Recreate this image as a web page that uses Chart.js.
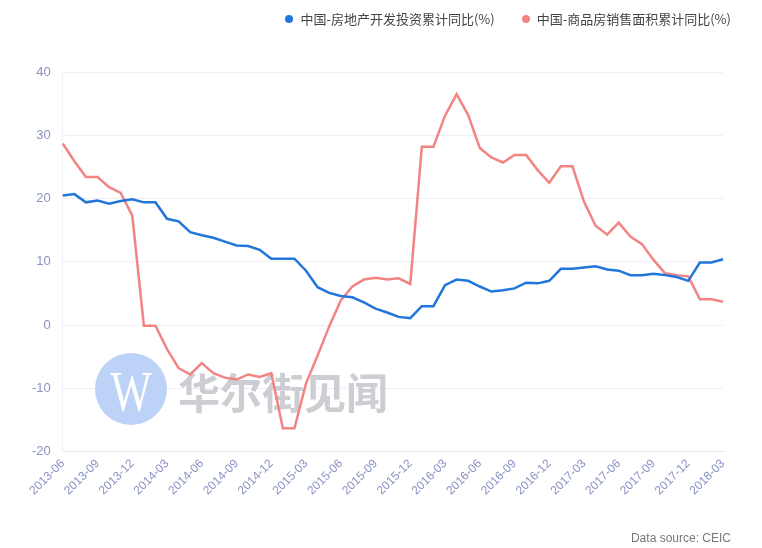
<!DOCTYPE html>
<html>
<head>
<meta charset="utf-8">
<script src="https://cdn.jsdelivr.net/npm/chart.js@4.4.1/dist/chart.umd.min.js"></script>
<style>
  body { margin: 0; background: #fff; }
  #wrap { position: relative; width: 762px; height: 548px; }
  #legend {
    position: absolute; top: 10px; right: 31px;
    font: 13px "Noto Sans CJK SC", sans-serif; color: #444;
    display: flex; line-height: 18px;
  }
  #legend .item { display: flex; align-items: center; }
  #legend .item + .item { margin-left: 27px; }
  #legend .dot { width: 8px; height: 8px; border-radius: 50%; margin-right: 7px; }
  #source {
    position: absolute; right: 31px; bottom: 3px;
    font: 12px "Liberation Sans", Arial, sans-serif; color: #777;
  }
</style>
</head>
<body>
<div id="wrap">
  <canvas id="chart" width="762" height="548"></canvas>
  <div id="legend"></div>
  <div id="source">Data source: CEIC</div>
</div>
<script>
const months = [
  "2013-06", "2013-07", "2013-08", "2013-09", "2013-10", "2013-11", "2013-12",
  "2014-01", "2014-02", "2014-03", "2014-04", "2014-05", "2014-06", "2014-07",
  "2014-08", "2014-09", "2014-10", "2014-11", "2014-12",
  "2015-01", "2015-02", "2015-03", "2015-04", "2015-05", "2015-06", "2015-07",
  "2015-08", "2015-09", "2015-10", "2015-11", "2015-12",
  "2016-01", "2016-02", "2016-03", "2016-04", "2016-05", "2016-06", "2016-07",
  "2016-08", "2016-09", "2016-10", "2016-11", "2016-12",
  "2017-01", "2017-02", "2017-03", "2017-04", "2017-05", "2017-06", "2017-07",
  "2017-08", "2017-09", "2017-10", "2017-11", "2017-12",
  "2018-01", "2018-02", "2018-03",
];

// 房地产开发投资累计同比
const investment = [
  20.5, 20.7, 19.4, 19.7, 19.2, 19.6, 19.9,
  19.4, 19.4, 16.8, 16.4, 14.7, 14.2, 13.8,
  13.2, 12.6, 12.5, 11.9, 10.5,
  10.5, 10.5, 8.6, 6.0, 5.1, 4.6, 4.4,
  3.6, 2.6, 2.0, 1.3, 1.1,
  3.0, 3.0, 6.3, 7.2, 7.0, 6.1, 5.3,
  5.5, 5.8, 6.7, 6.6, 7.0,
  8.9, 8.9, 9.1, 9.3, 8.8, 8.6, 7.9,
  7.9, 8.1, 7.9, 7.6, 7.0,
  9.9, 9.9, 10.4,
];

// 商品房销售面积累计同比
const salesArea = [
  28.7, 25.9, 23.4, 23.4, 21.8, 20.9, 17.3,
  -0.1, -0.1, -3.8, -6.8, -7.8, -6.0, -7.6,
  -8.3, -8.6, -7.8, -8.2, -7.6,
  -16.3, -16.3, -9.2, -4.8, -0.2, 3.9, 6.1,
  7.2, 7.5, 7.2, 7.4, 6.5,
  28.2, 28.2, 33.1, 36.5, 33.2, 28.0, 26.5,
  25.7, 26.9, 26.9, 24.5, 22.5,
  25.1, 25.1, 19.5, 15.7, 14.3, 16.2, 14.0,
  12.8, 10.3, 8.2, 7.9, 7.7,
  4.1, 4.1, 3.7,
];

const seriesNames = ["中国-房地产开发投资累计同比(%)", "中国-商品房销售面积累计同比(%)"];
const seriesColors = ["#2176dc", "#f28484"];

// legend
const legendBox = document.getElementById("legend");
seriesNames.forEach((name, i) => {
  legendBox.insertAdjacentHTML(
    "beforeend",
    `<div class="item"><span class="dot" style="background:${seriesColors[i]}"></span>${name}</div>`
  );
});

// 华尔街见闻 watermark
const watermark = {
  id: "watermark",
  beforeDatasetsDraw(chart) {
    const ctx = chart.ctx;
    ctx.save();
    ctx.fillStyle = "#bcd2f6";
    ctx.beginPath();
    ctx.arc(131, 389, 36, 0, Math.PI * 2);
    ctx.fill();
    ctx.save();
    ctx.translate(131, 396);
    ctx.scale(0.75, 1);
    ctx.fillStyle = "#fff";
    ctx.font = "58px 'Liberation Serif'";
    ctx.textAlign = "center";
    ctx.textBaseline = "middle";
    ctx.fillText("W", 0, 0);
    ctx.restore();
    ctx.fillStyle = "#cdced3";
    ctx.font = "bold 42px 'Noto Sans CJK SC'";
    ctx.textAlign = "left";
    ctx.textBaseline = "middle";
    ctx.fillText("华尔街见闻", 178, 393);
    ctx.restore();
  },
};

const tickColor = "#8a92c4";

new Chart(document.getElementById("chart"), {
  type: "line",
  data: {
    labels: months,
    datasets: [
      {
        label: seriesNames[0],
        data: investment,
        borderColor: seriesColors[0],
        backgroundColor: seriesColors[0],
        borderWidth: 2.5,
        pointRadius: 0,
        tension: 0,
      },
      {
        label: seriesNames[1],
        data: salesArea,
        borderColor: seriesColors[1],
        backgroundColor: seriesColors[1],
        borderWidth: 2.5,
        pointRadius: 0,
        tension: 0,
      },
    ],
  },
  options: {
    responsive: false,
    animation: false,
    layout: {
      padding: { top: 72, left: 20, right: 39, bottom: 45 },
    },
    plugins: {
      legend: { display: false },
      tooltip: { enabled: false },
    },
    scales: {
      x: {
        offset: false,
        grid: { display: false, drawTicks: false },
        border: { color: "#e6e8ef" },
        ticks: {
          autoSkip: false,
          minRotation: 45,
          maxRotation: 45,
          padding: 5,
          color: tickColor,
          font: { family: "'Liberation Sans', Arial, sans-serif", size: 12 },
          callback: function (value, index) {
            return index % 3 === 0 ? months[index] : "";
          },
        },
      },
      y: {
        min: -20,
        max: 40,
        grid: { color: "#eef0f5", drawTicks: false },
        border: { color: "#eef0f5" },
        ticks: {
          stepSize: 10,
          padding: 12,
          color: tickColor,
          font: { family: "'Liberation Sans', Arial, sans-serif", size: 13 },
        },
      },
    },
  },
  plugins: [watermark],
});
</script>
</body>
</html>
